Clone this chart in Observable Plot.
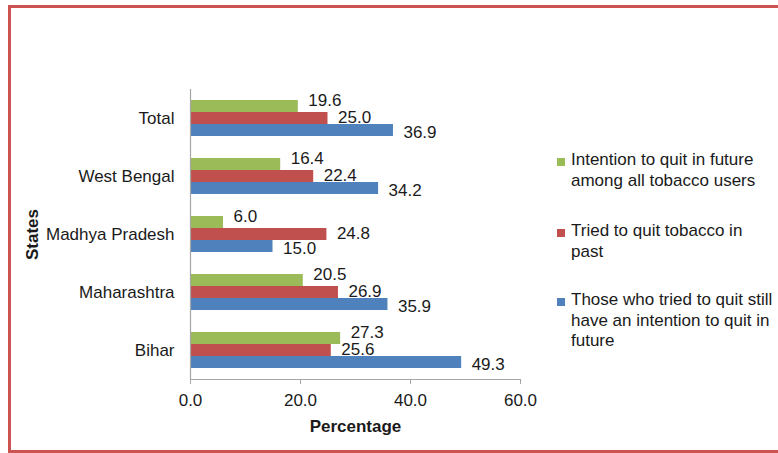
<!DOCTYPE html>
<html>
<head>
<meta charset="utf-8">
<script src="https://cdn.jsdelivr.net/npm/d3@7"></script>
<script src="https://cdn.jsdelivr.net/npm/@observablehq/plot@0.6"></script>
<style>
  html, body { margin: 0; padding: 0; background: #fff; overflow: hidden; }
  #wrap { position: relative; width: 778px; height: 453px; overflow: hidden; font-family: "Liberation Sans", Arial, sans-serif; color: #1a1a1a; }
  #border { position: absolute; left: 8px; top: 5px; width: 800px; height: 442px; border: 3px solid #CD5353; box-sizing: content-box; }
  #chart { position: absolute; left: 0; top: 0; }
  #legend { position: absolute; left: 557px; top: 0; width: 215px; font-size: 17px; line-height: 20.5px; }
  .item { position: absolute; left: 0; width: 215px; }
  .sw { position: absolute; left: 0; width: 8px; height: 8px; }
  .lt { position: absolute; left: 14px; width: 203px; }
  svg g[aria-label="x-axis label"] text, svg g[aria-label="fy-axis label"] text { font-weight: bold; }
</style>
</head>
<body>
<div id="wrap">
  <div id="border"></div>
  <div id="chart"></div>
  <div id="legend"></div>
</div>
<script>
const states = ["Total", "West Bengal", "Madhya Pradesh", "Maharashtra", "Bihar"];
const seriesNames = [
  "Intention to quit in future among all tobacco users",
  "Tried to quit tobacco in past",
  "Those who tried to quit still have an intention to quit in future"
];
const intentionAll = [19.6, 16.4, 6.0, 20.5, 27.3];
const triedPast = [25.0, 22.4, 24.8, 26.9, 25.6];
const triedStillIntend = [36.9, 34.2, 15.0, 35.9, 49.3];
const seriesColors = ["#9BBB59", "#C0504D", "#4F81BD"];
const xTicks = [0, 20, 40, 60];
const xLabel = "Percentage";
const yLabel = "States";

const seriesValues = [intentionAll, triedPast, triedStillIntend];
const data = states.flatMap((s, i) => seriesNames.map((name, k) => ({state: s, series: name, value: seriesValues[k][i]})));

const labelDy = [-6, -1, 2];
const fmt = d => d.toFixed(1);

const chart = Plot.plot({
  width: 778,
  height: 453,
  marginLeft: 190,
  marginRight: 258,
  marginTop: 88,
  marginBottom: 73,
  style: {fontFamily: '"Liberation Sans", Arial, sans-serif', fontSize: "17px", color: "#1a1a1a", background: "transparent", overflow: "visible"},
  x: {domain: [0, 60], ticks: xTicks, tickFormat: fmt},
  y: {domain: seriesNames, paddingInner: 0, paddingOuter: 0.8, axis: null},
  fy: {domain: states, padding: 0},
  color: {domain: seriesNames, range: seriesColors},
  marks: [
    Plot.barX(data, {fy: "state", y: "series", x: "value", fill: "series", insetTop: 0, insetBottom: 0}),
    ...seriesNames.map((name, k) => Plot.text(data.filter(d => d.series === name), {
      fy: "state", y: "series", x: "value", text: d => fmt(d.value),
      textAnchor: "start", dx: 10, dy: labelDy[k], fill: "#1a1a1a"
    })),
    Plot.ruleX([0], {stroke: "#a6a6a6", strokeWidth: 1.2}),
    Plot.frame({anchor: "bottom", stroke: "#a6a6a6", strokeWidth: 1.2, facetAnchor: "bottom"}),
    Plot.axisFy({anchor: "left", tickSize: 0, tickPadding: 16, label: yLabel, labelAnchor: "center", labelOffset: 165, labelArrow: "none"}),
    Plot.axisX({anchor: "bottom", ticks: xTicks, tickFormat: fmt, tickSize: 5, tickPadding: 9, stroke: "#a6a6a6", label: xLabel, labelAnchor: "center", labelOffset: 52, labelArrow: "none"})
  ]
});
document.getElementById("chart").appendChild(chart);

const legendTops = [150, 221, 290];
const legend = document.getElementById("legend");
seriesNames.forEach((name, k) => {
  const item = document.createElement("div");
  item.className = "item";
  item.style.top = legendTops[k] + "px";
  const sw = document.createElement("div");
  sw.className = "sw";
  sw.style.background = seriesColors[k];
  sw.style.top = "8px";
  const lt = document.createElement("div");
  lt.className = "lt";
  lt.textContent = name;
  item.appendChild(sw);
  item.appendChild(lt);
  legend.appendChild(item);
});
</script>
</body>
</html>
